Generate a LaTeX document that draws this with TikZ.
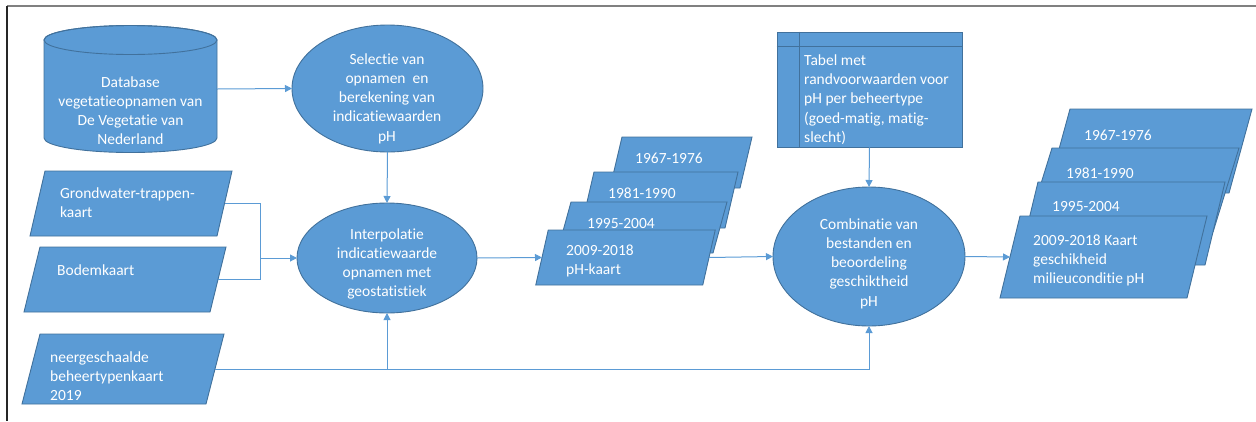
\documentclass[tikz,border=0pt]{standalone}
\usepackage{fontspec}
\setmainfont{Carlito}[Ligatures=NoCommon]
\usetikzlibrary{shapes.geometric,arrows.meta}

\definecolor{boxfill}{HTML}{5B9BD5}
\definecolor{boxline}{HTML}{41719C}
\definecolor{wire}{HTML}{5B9BD5}

\tikzset{
  box/.style={fill=boxfill, draw=boxline, line width=0.9pt, line join=miter},
  ell/.style={ellipse, box, inner sep=0pt, outer sep=0pt},
  lbl/.style={text=white, font=\fontsize{15.5}{19.3}\selectfont, inner sep=0pt,
              align=left, anchor=north west},
  ctr/.style={text=white, font=\fontsize{15.5}{19.3}\selectfont, inner sep=0pt,
              align=center},
  wireline/.style={draw=wire, line width=1pt},
  conn/.style={wireline, -{Triangle[length=7pt,width=7pt]}},
}

% parallelogram: name, centre x, centre y, edge width, height, horizontal slant
\newcommand\paraShape[6]{%
  \node[minimum width=#4pt, minimum height=#5pt, inner sep=0pt, outer sep=0pt] (#1) at (#2,#3) {};
  \path[box] ([xshift=#6/2]#1.north west) -- ([xshift=#6/2]#1.north east)
    -- ([xshift=-#6/2]#1.south east) -- ([xshift=-#6/2]#1.south west) -- cycle;
}

\begin{document}
\begin{tikzpicture}[x=1pt,y=-1pt]
\useasboundingbox (0,0) rectangle (1256,421);

% frame
\draw[line width=1.3pt, color=black!50] (7,6) -- (1256,6);
\draw[line width=1.2pt, color=black!85] (7,6) -- (7,421);

% database cylinder
\node[minimum width=173pt, minimum height=126pt, inner sep=0pt] (db) at (130.5,89) {};
\path[box] (44,40) -- (44,138) arc[start angle=180, end angle=0, x radius=86.5, y radius=14.5]
  -- (217,40) arc[start angle=0, end angle=-180, x radius=86.5, y radius=14.5] -- cycle;
\draw[boxline, line width=0.9pt] (130.5,40) ellipse[x radius=86.5, y radius=14.5];
\node[ctr] (dbt) at (130.5,112.1) {\strut Database\\vegetatieopnamen van\\De Vegetatie van\\Nederland\strut};

% selection ellipse
\node[ell, minimum width=191pt, minimum height=127pt] (e1) at (387.5,88.5) {};
\node[ctr] (e1t) at (387,98.75) {\strut Selectie van\\opnamen~ en\\berekening van\\indicatiewaarden\\pH\strut};

% interpolation ellipse
\node[ell, minimum width=180pt, minimum height=110pt] (e2) at (387,258) {};
\node[ctr] (e2t) at (387,264.1) {\strut Interpolatie\\indicatiewaarde\\opnamen met\\geostatistiek\strut};

% input maps
\paraShape{gw}{131}{203.5}{187}{65}{15}
\node[lbl] (gwt) at (60,184.5) {\strut Grondwater-trappen-\\kaart\strut};
\paraShape{bk}{125}{279.5}{186}{65}{16}
\node[lbl] (bkt) at (57,261.5) {\strut Bodemkaart\strut};
\paraShape{nb}{123}{369}{184}{70}{18}
\node[lbl] (nbt) at (50,348.5) {\strut neergeschaalde\\beheertypenkaart\\2019\strut};

% pH maps per period
\paraShape{sa}{681}{162.5}{130}{51}{12}
\node[lbl] (sat) at (635,149.5) {\strut 1967-1976\strut};
\paraShape{sb}{659.5}{200}{144}{56}{13}
\node[lbl] (sbt) at (608,184.5) {\strut 1981-1990\strut};
\paraShape{sc}{642}{227.5}{156}{51}{14}
\node[lbl] (sct) at (587,214.5) {\strut 1995-2004\strut};
\paraShape{sd}{625.5}{257.5}{167}{55}{12.5}
\node[lbl] (sdt) at (566,241.5) {\strut 2009-2018\\pH-kaart\strut};

% requirements table
\node[box, minimum width=185pt, minimum height=115pt, inner sep=0pt] (tbl) at (869.5,89.5) {};
\draw[boxline, line width=0.9pt] ([yshift=-15pt]tbl.north west) -- ([yshift=-15pt]tbl.north east);
\draw[boxline, line width=0.9pt] ([xshift=23pt]tbl.north west) -- ([xshift=23pt]tbl.south west);
\node[lbl] (tblt) at (804,51.5) {\strut Tabel met\\randvoorwaarden voor\\pH per beheertype\\(goed-matig, matig-\\slecht)\strut};

% combination ellipse
\node[ell, minimum width=192pt, minimum height=139pt] (e3) at (869,256.5) {};
\node[ctr] (e3t) at (869,263.75) {\strut Combinatie van\\bestanden en\\beoordeling\\geschiktheid\\pH\strut};

% suitability maps per period
\paraShape{ra}{1149.5}{151}{182}{84}{23}
\node[lbl] (rat) at (1084,126.5) {\strut 1967-1976\strut};
\paraShape{rb}{1132.5}{190}{187}{84}{26}
\node[lbl] (rbt) at (1066,164.5) {\strut 1981-1990\strut};
\paraShape{rc}{1121.5}{223.5}{187}{83}{20}
\node[lbl] (rct) at (1052,197.5) {\strut 1995-2004\strut};
\paraShape{rd}{1103.5}{257}{187}{82}{20}
\node[lbl] (rdt) at (1033,231.5) {\strut 2009-2018 Kaart\\geschikheid\\milieuconditie pH\strut};

% connectors
\coordinate (jn) at (260,258);
\draw[conn] (db.east) -- (e1.west);
\draw[conn] (e1.south) -- (e2.north);
\draw[wireline] (gw.east) -| (jn);
\draw[wireline] (bk.east) -| (jn);
\draw[conn] (jn) -- (e2.west);
\draw[conn] (nb.east) -| (e3.south);
\draw[conn] (nb.east -| e2.south) -- (e2.south);
\draw[conn] (e2.east) -- (sd.west);
\draw[conn] (sd.east) -- (e3.west);
\draw[conn] (tbl.south) -- (e3.north);
\draw[conn] (e3.east) -- (rd.west);
\end{tikzpicture}
\end{document}
